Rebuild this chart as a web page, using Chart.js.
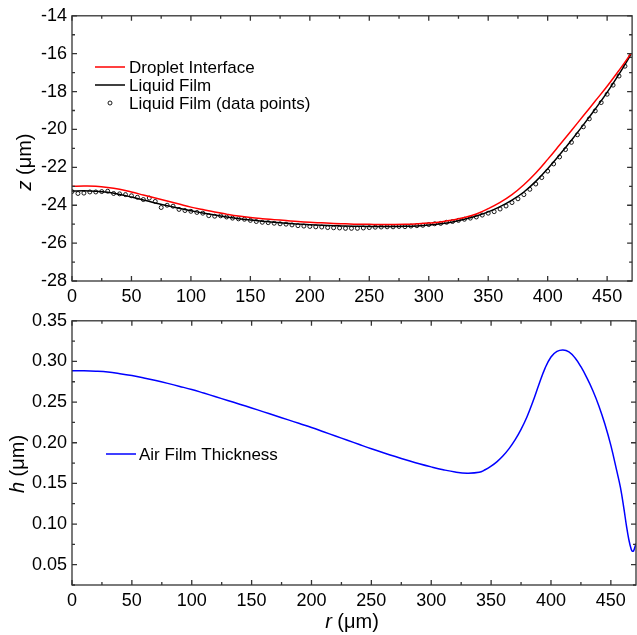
<!DOCTYPE html>
<html>
<head>
<meta charset="utf-8">
<script src="https://cdn.jsdelivr.net/npm/chart.js@4.4.1/dist/chart.umd.min.js"></script>
<style>
  html, body { margin: 0; padding: 0; background: #fff; }
  #wrap { position: relative; width: 637px; height: 635px; }
  #top { position: absolute; left: 0; top: 0; }
  #bottom { position: absolute; left: 0; top: 305px; }
</style>
</head>
<body>
<div id="wrap">
  <canvas id="top" width="637" height="305"></canvas>
  <canvas id="bottom" width="637" height="330"></canvas>
</div>
<script>
var FONT = '"Liberation Sans", Arial, sans-serif';

// r positions of the two fitted curves (um)
var rLine = [0,10,20,30,40,50,60,70,80,90,100,110,120,130,140,150,160,170,180,190,
  200,210,220,230,240,250,260,270,280,290,300,310,320,330,340,350,360,370,380,390,
  400,410,420,430,440,450,460,470];
// droplet interface z (um)
var zDroplet = [-23.00,-22.99,-23.00,-23.06,-23.16,-23.30,-23.46,-23.62,-23.78,-23.94,
  -24.10,-24.23,-24.36,-24.47,-24.57,-24.65,-24.71,-24.76,-24.81,-24.86,
  -24.90,-24.93,-24.96,-24.98,-25.00,-25.01,-25.02,-25.02,-25.01,-24.98,
  -24.94,-24.88,-24.78,-24.65,-24.46,-24.18,-23.85,-23.44,-22.92,-22.30,
  -21.58,-20.82,-20.05,-19.28,-18.50,-17.72,-16.88,-16.00];
// liquid film z (um)
var zFilm = [-23.25,-23.24,-23.26,-23.32,-23.43,-23.57,-23.72,-23.88,-24.02,-24.16,
  -24.29,-24.41,-24.52,-24.62,-24.71,-24.78,-24.84,-24.90,-24.95,-24.99,
  -25.03,-25.06,-25.08,-25.10,-25.11,-25.12,-25.12,-25.12,-25.11,-25.09,
  -25.05,-24.98,-24.88,-24.74,-24.57,-24.35,-24.07,-23.73,-23.30,-22.74,
  -22.07,-21.34,-20.57,-19.76,-18.92,-18.04,-17.08,-16.05];

// liquid film measured points
var rPts = [0,5,10,15,20,25,30,35,40,45,50,55,60,65,70,75,80,85,90,95,
  100,105,110,115,120,125,130,135,140,145,150,155,160,165,170,175,180,185,190,195,
  200,205,210,215,220,225,230,235,240,245,250,255,260,265,270,275,280,285,290,295,
  300,305,310,315,320,325,330,335,340,345,350,355,360,365,370,375,380,385,390,395,
  400,405,410,415,420,425,430,435,440,445,450,455,460,465,470];
var zPts = [-23.28,-23.38,-23.36,-23.30,-23.30,-23.28,-23.26,-23.38,-23.40,-23.44,
  -23.50,-23.58,-23.70,-23.62,-23.80,-24.12,-24.00,-24.05,-24.22,-24.28,
  -24.32,-24.38,-24.42,-24.55,-24.58,-24.56,-24.62,-24.68,-24.72,-24.74,
  -24.80,-24.86,-24.90,-24.92,-24.95,-24.98,-25.00,-25.04,-25.08,-25.10,
  -25.12,-25.14,-25.15,-25.18,-25.19,-25.20,-25.22,-25.22,-25.22,-25.20,
  -25.18,-25.16,-25.15,-25.14,-25.14,-25.12,-25.13,-25.10,-25.08,-25.06,
  -25.02,-24.98,-24.96,-24.90,-24.86,-24.80,-24.74,-24.68,-24.62,-24.52,
  -24.42,-24.34,-24.20,-24.04,-23.86,-23.66,-23.44,-23.16,-22.88,-22.54,
  -22.20,-21.82,-21.45,-21.06,-20.68,-20.28,-19.86,-19.44,-19.02,-18.58,
  -18.14,-17.66,-17.18,-16.66,-16.10];

// air film thickness
var rAir = [0,10,20,30,40,50,60,70,80,90,100,110,120,130,140,150,160,170,180,190,
  200,210,220,230,240,250,260,270,280,290,300,310,320,330,340,345,350,355,360,365,
  370,375,380,385,390,395,400,405,410,415,420,425,430,435,440,445,450,455,458,461,
  463,465,467,468,469,471];
var hAir = [0.2886,0.2885,0.2880,0.2870,0.2850,0.2826,0.2797,0.2765,0.2730,0.2693,
  0.2655,0.2611,0.2566,0.2520,0.2474,0.2428,0.2380,0.2332,0.2284,0.2236,
  0.2188,0.2136,0.2083,0.2031,0.1978,0.1926,0.1877,0.1830,0.1785,0.1742,
  0.1703,0.1668,0.1640,0.1626,0.1636,0.1668,0.1712,0.1768,0.1840,0.1928,
  0.2035,0.2165,0.2320,0.2510,0.2720,0.2915,0.3055,0.3123,0.3142,0.3118,
  0.3045,0.2935,0.2797,0.2640,0.2453,0.2230,0.1967,0.1650,0.1450,0.1180,
  0.0980,0.0810,0.0690,0.0665,0.0670,0.0760];

var rTicks = [0,50,100,150,200,250,300,350,400,450];
var zTicks = [-28,-26,-24,-22,-20,-18,-16,-14];
var hTicks = [0.05,0.10,0.15,0.20,0.25,0.30,0.35];

function pairs(xs, ys) {
  return xs.map(function(x, i) { return {x: x, y: ys[i]}; });
}

function drawTitle(ctx, t) {
  ctx.save();
  ctx.translate(t.x, t.y);
  if (t.rotate) ctx.rotate(-Math.PI / 2);
  ctx.textBaseline = 'middle';
  ctx.textAlign = 'left';
  ctx.fillStyle = '#000';
  ctx.font = 'italic 20px ' + FONT;
  var w1 = ctx.measureText(t.italic).width;
  ctx.font = '20px ' + FONT;
  var w2 = ctx.measureText(t.rest).width;
  var x0 = -(w1 + w2) / 2;
  ctx.font = 'italic 20px ' + FONT;
  ctx.fillText(t.italic, x0, 0);
  ctx.font = '20px ' + FONT;
  ctx.fillText(t.rest, x0 + w1, 0);
  ctx.restore();
}

// box, inward ticks, legend and axis titles
var framePlugin = {
  id: 'frame',
  afterDraw: function(chart, args, opts) {
    var ctx = chart.ctx, a = chart.chartArea;
    var xs = chart.scales.x, ys = chart.scales.y;
    ctx.save();
    ctx.strokeStyle = '#333';
    ctx.lineWidth = 1.3;
    ctx.strokeRect(a.left, a.top, a.right - a.left, a.bottom - a.top);
    ctx.beginPath();
    function xt(v, len) {
      var p = xs.getPixelForValue(v);
      if (p < a.left - 0.5 || p > a.right + 0.5) return;
      ctx.moveTo(p, a.bottom); ctx.lineTo(p, a.bottom - len);
      ctx.moveTo(p, a.top); ctx.lineTo(p, a.top + len);
    }
    function yt(v, len) {
      var p = ys.getPixelForValue(v);
      if (p < a.top - 0.5 || p > a.bottom + 0.5) return;
      ctx.moveTo(a.left, p); ctx.lineTo(a.left + len, p);
      ctx.moveTo(a.right, p); ctx.lineTo(a.right - len, p);
    }
    opts.xTicks.forEach(function(v) { xt(v, 5); xt(v + opts.xMinor, 3); });
    opts.yTicks.forEach(function(v) { yt(v, 5); yt(v - opts.yMinor, 3); });
    ctx.stroke();
    ctx.restore();

    // legend
    ctx.save();
    ctx.font = '17px ' + FONT;
    ctx.textBaseline = 'middle';
    ctx.fillStyle = '#000';
    opts.legend.forEach(function(it) {
      var ds = chart.data.datasets[it.index];
      if (it.type === 'line') {
        ctx.strokeStyle = ds.borderColor;
        ctx.lineWidth = 1.5;
        ctx.beginPath();
        ctx.moveTo(it.x0, it.y); ctx.lineTo(it.x1, it.y);
        ctx.stroke();
      } else {
        ctx.strokeStyle = '#000';
        ctx.lineWidth = 0.9;
        ctx.beginPath();
        ctx.arc((it.x0 + it.x1) / 2, it.y, 2, 0, Math.PI * 2);
        ctx.stroke();
      }
      ctx.fillText(ds.label, it.tx, it.y + 1);
    });
    ctx.restore();

    opts.titles.forEach(function(t) { drawTitle(ctx, t); });
  }
};

function xScale(h) {
  return {
    type: 'linear', min: 0, max: 471,
    afterBuildTicks: function(s) { s.ticks = rTicks.map(function(v) { return {value: v}; }); },
    afterFit: function(s) { s.height = h; },
    grid: {display: false, drawTicks: false},
    border: {display: false},
    ticks: {font: {family: FONT, size: 18}, color: '#000', padding: 5, maxRotation: 0, autoSkip: false}
  };
}

new Chart(document.getElementById('top'), {
  type: 'scatter',
  data: {
    datasets: [
      {label: 'Droplet Interface', data: pairs(rLine, zDroplet), showLine: true,
       borderColor: '#ff0000', borderWidth: 1.5, pointRadius: 0, tension: 0.4},
      {label: 'Liquid Film', data: pairs(rLine, zFilm), showLine: true,
       borderColor: '#000000', borderWidth: 1.5, pointRadius: 0, tension: 0.4},
      {label: 'Liquid Film (data points)', data: pairs(rPts, zPts), showLine: false,
       pointRadius: 2, pointBorderWidth: 0.9, pointBorderColor: '#000',
       pointBackgroundColor: 'rgba(0,0,0,0)'}
    ]
  },
  options: {
    responsive: false, animation: false, devicePixelRatio: 1, events: [],
    layout: {padding: {top: 14, left: 0, right: 1, bottom: 0}},
    scales: {
      x: xScale(24),
      y: {
        type: 'linear', min: -28, max: -14,
        afterBuildTicks: function(s) { s.ticks = zTicks.map(function(v) { return {value: v}; }); },
        afterFit: function(s) { s.width = 72; },
        grid: {display: false, drawTicks: false},
        border: {display: false},
        ticks: {font: {family: FONT, size: 18}, color: '#000', padding: 5,
                callback: function(v) { return String(v); }}
      }
    },
    plugins: {
      legend: {display: false},
      tooltip: {enabled: false},
      frame: {
        xTicks: rTicks, xMinor: 25, yTicks: zTicks, yMinor: 1,
        legend: [
          {index: 0, type: 'line', x0: 95, x1: 125, tx: 129, y: 67},
          {index: 1, type: 'line', x0: 95, x1: 125, tx: 129, y: 85},
          {index: 2, type: 'point', x0: 95, x1: 125, tx: 129, y: 103}
        ],
        titles: [{italic: 'z', rest: ' (μm)', x: 25, y: 162, rotate: true}]
      }
    }
  },
  plugins: [framePlugin]
});

new Chart(document.getElementById('bottom'), {
  type: 'scatter',
  data: {
    datasets: [
      {label: 'Air Film Thickness', data: pairs(rAir, hAir), showLine: true,
       borderColor: '#0000ff', borderWidth: 1.5, pointRadius: 0, tension: 0.4}
    ]
  },
  options: {
    responsive: false, animation: false, devicePixelRatio: 1, events: [],
    layout: {padding: {top: 12, left: 0, right: 1, bottom: 0}},
    scales: {
      x: xScale(50),
      y: {
        type: 'linear', min: 0.025, max: 0.35,
        afterBuildTicks: function(s) { s.ticks = hTicks.map(function(v) { return {value: v}; }); },
        afterFit: function(s) { s.width = 72; },
        grid: {display: false, drawTicks: false},
        border: {display: false},
        ticks: {font: {family: FONT, size: 18}, color: '#000', padding: 5,
                callback: function(v) { return Number(v).toFixed(2); }}
      }
    },
    plugins: {
      legend: {display: false},
      tooltip: {enabled: false},
      frame: {
        xTicks: rTicks, xMinor: 25, yTicks: hTicks, yMinor: 0.025,
        legend: [
          {index: 0, type: 'line', x0: 106, x1: 136, tx: 139, y: 149}
        ],
        titles: [
          {italic: 'h', rest: ' (μm)', x: 18, y: 159, rotate: true},
          {italic: 'r', rest: ' (μm)', x: 352, y: 317, rotate: false}
        ]
      }
    }
  },
  plugins: [framePlugin]
});
</script>
</body>
</html>
